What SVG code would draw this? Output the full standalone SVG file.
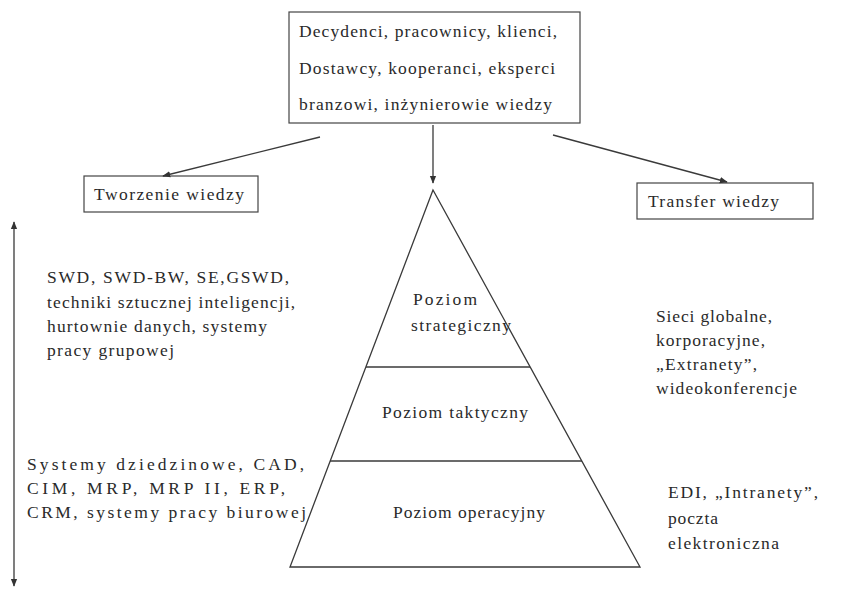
<svg xmlns="http://www.w3.org/2000/svg" width="847" height="589" viewBox="0 0 847 589">
<defs>
<marker id="ah" viewBox="0 0 10 10" refX="9" refY="5" markerWidth="8" markerHeight="8" markerUnits="userSpaceOnUse" orient="auto">
<path d="M0,1 L10,5 L0,9 Z" fill="#333"/>
</marker>
</defs>
<style>
text{font-family:"Liberation Serif","Times New Roman",serif;font-size:17.5px;fill:#2a2a2a}
.box{fill:#fff;stroke:#444;stroke-width:1.2}
.ln{stroke:#3a3a3a;stroke-width:1.3;fill:none}
</style>
<rect width="847" height="589" fill="#fff"/>
<g id="source">
<rect class="box" x="289" y="12" width="291" height="111"/>
<text x="299" y="37" textLength="258" lengthAdjust="spacing">Decydenci, pracownicy, klienci,</text>
<text x="299" y="74" textLength="256" lengthAdjust="spacing">Dostawcy, kooperanci, eksperci</text>
<text x="299" y="110" textLength="253" lengthAdjust="spacing">branzowi, inżynierowie wiedzy</text>
</g>
<g id="tworzenie">
<rect class="box" x="84" y="176" width="174" height="36"/>
<text x="94" y="200" textLength="150" lengthAdjust="spacing">Tworzenie wiedzy</text>
</g>
<g id="transfer">
<rect class="box" x="637" y="183" width="176" height="36"/>
<text x="648" y="207" textLength="131" lengthAdjust="spacing">Transfer wiedzy</text>
</g>
<g id="pyramid">
<path class="ln" d="M433,190 L290,567 L640,567 Z"/>
<line class="ln" x1="366" y1="367" x2="530" y2="367"/>
<line class="ln" x1="330" y1="461" x2="582" y2="461"/>
<text x="413" y="305" textLength="64" lengthAdjust="spacing">Poziom</text>
<text x="411" y="331" textLength="100" lengthAdjust="spacing">strategiczny</text>
<text x="382" y="418" textLength="146" lengthAdjust="spacing">Poziom taktyczny</text>
<text x="393" y="518" textLength="152" lengthAdjust="spacing">Poziom operacyjny</text>
</g>
<g id="left-top">
<text x="47" y="283" textLength="242" lengthAdjust="spacing">SWD, SWD-BW, SE,GSWD,</text>
<text x="47" y="308" textLength="248" lengthAdjust="spacing">techniki sztucznej inteligencji,</text>
<text x="47" y="332" textLength="220" lengthAdjust="spacing">hurtownie danych, systemy</text>
<text x="47" y="356" textLength="127" lengthAdjust="spacing">pracy grupowej</text>
</g>
<g id="left-bottom">
<text x="27" y="470" textLength="277" lengthAdjust="spacing">Systemy dziedzinowe, CAD,</text>
<text x="27" y="494" textLength="258" lengthAdjust="spacing">CIM, MRP, MRP II, ERP,</text>
<text x="27" y="518" textLength="279" lengthAdjust="spacing">CRM, systemy pracy biurowej</text>
</g>
<g id="right-top">
<text x="656" y="322" textLength="116" lengthAdjust="spacing">Sieci globalne,</text>
<text x="656" y="346" textLength="109" lengthAdjust="spacing">korporacyjne,</text>
<text x="656" y="370" textLength="101" lengthAdjust="spacing">„Extranety”,</text>
<text x="656" y="394" textLength="141" lengthAdjust="spacing">wideokonferencje</text>
</g>
<g id="right-bottom">
<text x="668" y="498" textLength="150" lengthAdjust="spacing">EDI, „Intranety”,</text>
<text x="668" y="524" textLength="50" lengthAdjust="spacing">poczta</text>
<text x="668" y="549" textLength="111" lengthAdjust="spacing">elektroniczna</text>
</g>
<g id="connectors">
<line class="ln" x1="320" y1="137" x2="163" y2="176" marker-end="url(#ah)"/>
<line class="ln" x1="553" y1="135" x2="727" y2="182" marker-end="url(#ah)"/>
<line class="ln" x1="433" y1="125" x2="433" y2="183" marker-end="url(#ah)"/>
<line class="ln" x1="14" y1="400" x2="14" y2="222" marker-end="url(#ah)"/>
<line class="ln" x1="14" y1="400" x2="14" y2="586" marker-end="url(#ah)"/>
</g>
</svg>
